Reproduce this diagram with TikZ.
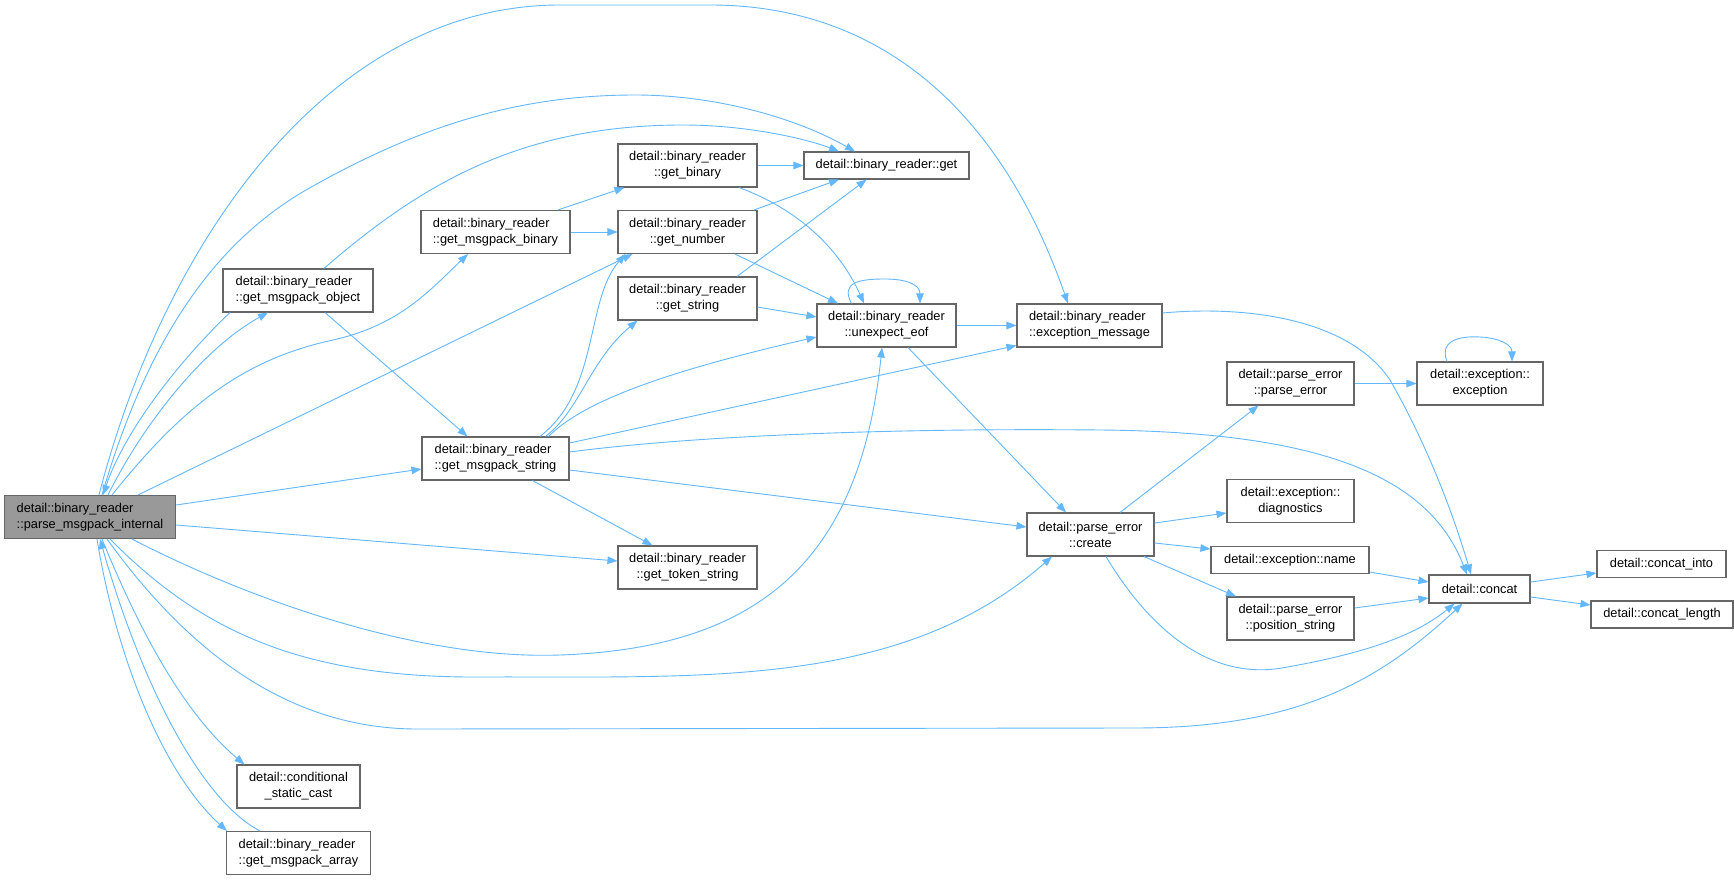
\documentclass[tikz,border=0pt]{standalone}
\usepackage{fontspec}
\setmainfont{Liberation Sans}
\usetikzlibrary{calc,arrows.meta}
\definecolor{edgeblue}{HTML}{63B8FF}
\definecolor{boxgray}{HTML}{666666}
\definecolor{mainfill}{HTML}{999999}
\begin{document}
\begin{tikzpicture}[x=1pt,y=-1pt,
  box/.style={draw=boxgray,line width=1.1pt,fill=white,inner sep=0pt,align=center,
    font=\fontsize{12.8pt}{16pt}\selectfont,minimum height=43pt},
  lbox/.style={box,align=left},
  conn/.style={draw=edgeblue,line width=0.9pt,-{Triangle[length=10pt,width=7.5pt]}}]
\useasboundingbox[fill=white] (0,0) rectangle (1734,880);

% nodes
\node[lbox,fill=mainfill,minimum width=171pt] (pmi) at (90,517) {detail::binary\_reader\\::parse\_msgpack\_internal};
\node[lbox,minimum width=150pt] (gmo) at (298,290.5) {detail::binary\_reader\\::get\_msgpack\_object};
\node[lbox,minimum width=149pt] (gmb) at (495.5,232) {detail::binary\_reader\\::get\_msgpack\_binary};
\node[lbox,minimum width=147pt] (gms) at (495.5,458.5) {detail::binary\_reader\\::get\_msgpack\_string};
\node[box,minimum width=123pt] (csc) at (298.5,786.5) {detail::conditional\\\_static\_cast};
\node[lbox,minimum width=144pt] (gma) at (298.5,853) {detail::binary\_reader\\::get\_msgpack\_array};
\node[box,minimum width=139pt] (gb) at (687.5,165.5) {detail::binary\_reader\\::get\_binary};
\node[box,minimum width=165pt,minimum height=27pt] (get) at (886.5,165.5) {detail::binary\_reader::get};
\node[box,minimum width=139pt] (gn) at (687.5,232) {detail::binary\_reader\\::get\_number};
\node[box,minimum width=139pt] (gs) at (687.5,298.5) {detail::binary\_reader\\::get\_string};
\node[box,minimum width=139pt] (gts) at (687.5,567.5) {detail::binary\_reader\\::get\_token\_string};
\node[box,minimum width=139pt] (ue) at (886.5,325.5) {detail::binary\_reader\\::unexpect\_eof};
\node[lbox,minimum width=145pt] (em) at (1089.5,325.5) {detail::binary\_reader\\::exception\_message};
\node[box,minimum width=127pt] (pe) at (1290.5,383.5) {detail::parse\_error\\::parse\_error};
\node[box,minimum width=126pt] (ex) at (1480,383.5) {detail::exception::\\exception};
\node[box,minimum width=127pt] (dg) at (1290.5,501) {detail::exception::\\diagnostics};
\node[box,minimum width=127pt] (cr) at (1090.5,534.5) {detail::parse\_error\\::create};
\node[box,minimum width=158pt,minimum height=27pt] (nm) at (1290,560) {detail::exception::name};
\node[box,minimum width=127pt] (ps) at (1290.5,618.5) {detail::parse\_error\\::position\_string};
\node[box,minimum width=101pt,minimum height=28pt] (cc) at (1479.5,589) {detail::concat};
\node[box,minimum width=129pt,minimum height=27pt] (ci) at (1661.5,564) {detail::concat\_into};
\node[box,minimum width=142pt,minimum height=27pt] (cl) at (1662,614.5) {detail::concat\_length};

% edges from parse_msgpack_internal
\draw[conn] ($(pmi.north)+(9,0)$) .. controls (165,240) and (330,5) .. (560,5) -- (710,5) .. controls (880,5) and (1000,110) .. ($(em.north)+(-21.5,0)$);
\draw[conn] ($(pmi.north)+(12,0)$) .. controls (150,330) and (220,240) .. (306,190) .. controls (420,125) and (520,95) .. (635,95) .. controls (720,95) and (800,120) .. ($(get.north)+(-31.5,0)$);
\draw[conn] ($(pmi.north)+(18,0)$) .. controls (140,430) and (200,350) .. ($(gmo.south)+(-30,0)$);
\draw[conn] ($(gmo.south)+(-68,0)$) .. controls (180,360) and (125,430) .. ($(pmi.north)+(13,0)$);
\draw[conn] ($(pmi.north)+(22,0)$) .. controls (180,410) and (240,360) .. (333,340) .. controls (400,325) and (430,290) .. ($(gmb.south)+(-27.5,0)$);
\draw[conn] ($(pmi.north)+(48,0)$) -- ($(gn.south)+(-55,0)$);
\draw[conn] ($(pmi.east)+(0,-12)$) -- ($(gms.west)+(0,10.5)$);
\draw[conn] ($(pmi.east)+(0,8)$) -- ($(gts.west)+(0,-6.5)$);
\draw[conn] ($(pmi.south)+(42,0)$) .. controls (250,600) and (420,660) .. (560,655) .. controls (760,648) and (860,560) .. ($(ue.south)+(-4.5,0)$);
\draw[conn] ($(pmi.south)+(20,0)$) .. controls (200,630) and (300,678) .. (480,677) .. controls (700,676) and (900,690) .. ($(cr.south)+(-38.5,0)$);
\draw[conn] ($(pmi.south)+(17,0)$) .. controls (180,640) and (280,730) .. (420,729) -- (1134,728) .. controls (1300,728) and (1380,680) .. ($(cc.south)+(-17,0)$);
\draw[conn] ($(pmi.south)+(12,0)$) .. controls (135,620) and (180,710) .. ($(csc.north west)+(8,0)$);
\draw[conn] ($(pmi.south)+(7,0)$) .. controls (115,650) and (160,770) .. ($(gma.north west)+(1,0)$);
\draw[conn] ($(gma.north)+(-38.5,0)$) .. controls (200,800) and (140,680) .. ($(pmi.south)+(10,0)$);

% get_msgpack_object
\draw[conn] ($(gmo.north)+(26,0)$) .. controls (420,185) and (520,125) .. (683,125) .. controls (750,125) and (810,140) .. ($(get.north)+(-47.5,0)$);
\draw[conn] ($(gmo.south)+(27,0)$) -- ($(gms.north)+(-28,0)$);

% get_msgpack_binary
\draw[conn] ($(gmb.north)+(62.5,0)$) -- ($(gb.south west)+(7,0)$);
\draw[conn] (gmb.east) -- (gn.west);

% get_msgpack_string
\draw[conn] ($(gms.north)+(44.5,0)$) .. controls (600,390) and (585,300) .. ($(gn.south)+(-62,0)$);
\draw[conn] ($(gms.north)+(50,0)$) .. controls (580,410) and (590,360) .. ($(gs.south)+(-50,0)$);
\draw[conn] ($(gms.north)+(53,0)$) .. controls (580,405) and (650,375) .. ($(ue.west)+(0,11.5)$);
\draw[conn] ($(gms.east)+(0,-15.5)$) -- ($(em.west)+(0,20)$);
\draw[conn] ($(gms.east)+(0,-6.5)$) .. controls (700,435) and (900,428) .. (1100,430) .. controls (1330,432) and (1430,480) .. ($(cc.north)+(-12.5,0)$);
\draw[conn] ($(gms.east)+(0,11.5)$) -- ($(cr.west)+(0,-7.5)$);
\draw[conn] ($(gms.south)+(37,0)$) -- ($(gts.north)+(-35,0)$);

% get_binary, get_number, get_string
\draw[conn] (gb.east) -- (get.west);
\draw[conn] ($(gb.south)+(51.5,0)$) .. controls (800,210) and (840,250) .. ($(ue.north)+(-22.5,0)$);
\draw[conn] ($(gn.north)+(66.5,0)$) -- ($(get.south)+(-47.5,0)$);
\draw[conn] ($(gn.south)+(47.5,0)$) -- ($(ue.north)+(-48.5,0)$);
\draw[conn] ($(gs.north)+(49.5,0)$) -- ($(get.south)+(-20,0)$);
\draw[conn] ($(gs.east)+(0,8.5)$) -- ($(ue.west)+(0,-8.5)$);

% unexpect_eof
\draw[conn] ($(ue.north)+(-35,0)$) .. controls (840,282) and (860,279) .. (885,279) .. controls (905,279) and (920,284) .. ($(ue.north)+(33.5,0)$);
\draw[conn] (ue.east) -- (em.west);
\draw[conn] ($(ue.south)+(21.5,0)$) -- ($(cr.north)+(-24.5,0)$);

% exception_message
\draw[conn] ($(em.east)+(0,-12.5)$) .. controls (1250,305) and (1350,320) .. (1390,380) .. controls (1430,450) and (1455,520) .. ($(cc.north)+(-8.5,0)$);

% create
\draw[conn] ($(cr.north)+(29.5,0)$) -- ($(pe.south)+(-32,0)$);
\draw[conn] ($(cr.east)+(0,-11.5)$) -- ($(dg.west)+(0,12)$);
\draw[conn] ($(cr.east)+(0,8.5)$) -- ($(nm.west)+(0,-11)$);
\draw[conn] ($(cr.south)+(53.5,0)$) -- ($(ps.north)+(-54.5,0)$);
\draw[conn] ($(cr.south)+(15.5,0)$) .. controls (1150,630) and (1210,680) .. (1282,668) .. controls (1350,656) and (1410,640) .. ($(cc.south)+(-25,0)$);

% parse_error, exception
\draw[conn] (pe.east) -- (ex.west);
\draw[conn] ($(ex.north)+(-33,0)$) .. controls (1438,338) and (1465,336) .. (1480,337) .. controls (1500,338) and (1512,345) .. ($(ex.north)+(32,0)$);

% to concat
\draw[conn] ($(nm.east)+(0,12)$) -- ($(cc.west)+(0,-7)$);
\draw[conn] ($(ps.east)+(0,-10.5)$) -- ($(cc.west)+(0,9)$);
\draw[conn] ($(cc.east)+(0,-7)$) -- ($(ci.west)+(0,9)$);
\draw[conn] ($(cc.east)+(0,8)$) -- ($(cl.west)+(0,-9.5)$);
\end{tikzpicture}
\end{document}
